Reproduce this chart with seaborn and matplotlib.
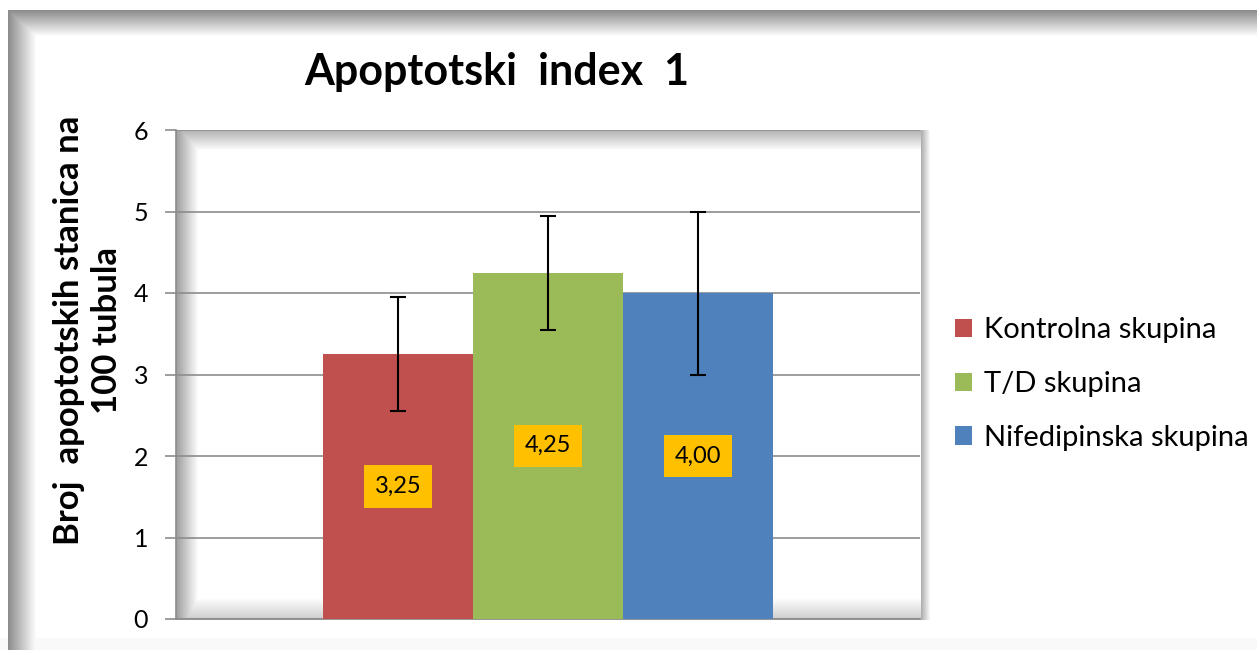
import matplotlib.pyplot as plt
import numpy as np
import pandas as pd
import seaborn as sns

# podaci
skupine = ["Kontrolna skupina", "T/D skupina", "Nifedipinska skupina"]
vrijednosti = [3.25, 4.25, 4.00]
greske = [0.7, 0.7, 1.0]
oznake = ["3,25", "4,25", "4,00"]
boje = ["#C0504D", "#9BBB59", "#4F81BD"]

df = pd.DataFrame({"skupina": skupine, "broj": vrijednosti})

sns.set_style("white")
plt.rcParams["font.family"] = ["Lato", "DejaVu Sans"]
plt.rcParams["text.color"] = "black"
plt.rcParams["ytick.labelcolor"] = "black"

W, H = 1257, 650
fig = plt.figure(figsize=(W / 100, H / 100), dpi=100)

# pozadina s sjenom (okvir grafikona i podrucje crtanja)
bg = fig.add_axes([0, 0, 1, 1], zorder=-5)
xx, yy = np.meshgrid(np.arange(W), np.arange(H))
img = np.ones((H, W))
# vanjski okvir
img = np.minimum(img, np.where((xx >= 8) & (yy >= 10), 0.55 + 0.45 * np.clip((xx - 8) / 28, 0, 1), 1))
img = np.where((xx >= 8) & (yy >= 10),
               np.minimum(img, 0.55 + 0.45 * np.clip((yy - 10) / 26, 0, 1)), img)
img = np.where(yy >= 638, np.minimum(img, 0.975), img)
# unutarnje podrucje
L, R, T, B = 176, 920, 130, 619
inside = (xx >= L) & (xx <= R) & (yy >= T) & (yy <= B)
img = np.where(inside, np.minimum(img, 0.62 + 0.38 * np.clip((xx - L) / 22, 0, 1)), img)
img = np.where(inside, np.minimum(img, 0.7 + 0.3 * np.clip((yy - T) / 20, 0, 1)), img)
img = np.where(inside, np.minimum(img, 0.8 + 0.2 * np.clip((B - yy) / 22, 0, 1)), img)
right = (xx > R) & (xx <= R + 10) & (yy >= T) & (yy <= B)
img = np.where(right, np.minimum(img, 0.65 + 0.35 * np.clip((xx - R) / 10, 0, 1)), img)
bg.imshow(img, cmap="gray", vmin=0, vmax=1, aspect="auto", interpolation="bilinear")
bg.axis("off")

ax = fig.add_axes([L / W, 1 - B / H, (R - L) / W, (B - T) / H])
ax.patch.set_alpha(0)

sns.barplot(data=df, x="skupina", y="broj", hue="skupina", palette=boje,
            width=1.0, saturation=1, legend=True, ax=ax, zorder=3, linewidth=0)

# error bars
xs = [p.get_x() + p.get_width() / 2 for p in ax.patches[:3]]
ax.errorbar(xs, vrijednosti, yerr=greske, fmt="none", ecolor="black",
            elinewidth=1.5, capsize=6, capthick=1.5, zorder=4)

for cont, lab in zip(ax.containers, oznake):
    ax.bar_label(cont, labels=[lab], label_type="center", fontsize=17, color="black",
                 bbox=dict(boxstyle="square,pad=0.45", fc="#FFC000", ec="none"), zorder=5)

ax.set_xlim(-1.48, 3.48)
ax.set_ylim(0, 6)
ax.set_yticks(range(7))
ax.yaxis.grid(True, color="#8C8C8C", linewidth=1.2, zorder=0)
ax.set_axisbelow(True)
ax.set_xticks([])
ax.set_xlabel("")
ax.set_ylabel("")
for s in ["top", "right"]:
    ax.spines[s].set_visible(False)
ax.spines["left"].set_color("#8C8C8C")
ax.spines["bottom"].set_color("#8C8C8C")
ax.spines["left"].set_linewidth(1.2)
ax.spines["bottom"].set_linewidth(1.2)
ax.tick_params(axis="y", length=8, width=1.2, color="#8C8C8C", labelcolor="black",
               labelsize=18, pad=12, left=True)

handles, labels = ax.get_legend_handles_labels()
ax.legend(handles, labels, loc="center left", bbox_to_anchor=(0.7385, 0.409),
          bbox_transform=fig.transFigure, frameon=False, fontsize=21,
          handlelength=0.6, handleheight=0.6, handletextpad=0.4, labelspacing=0.95)

fig.text(0.395, 0.889, "Apoptotski  index  1", ha="center", va="center",
         fontsize=31, fontweight="bold", color="black")
fig.text(0.07, 0.492, "Broj  apoptotskih stanica na\n100 tubula", ha="center", va="center",
         rotation=90, fontsize=25, fontweight="bold", multialignment="center",
         linespacing=1.25, color="black")

fig.savefig("out.png", dpi=100)
